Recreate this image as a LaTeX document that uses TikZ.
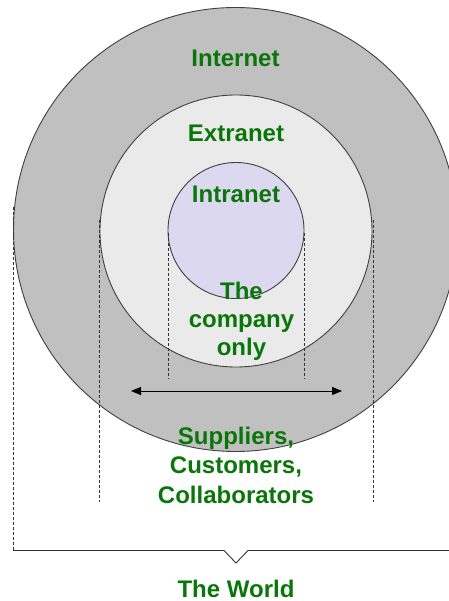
\documentclass[tikz,border=0pt]{standalone}
\usepackage{fontspec}
\setmainfont{Liberation Sans}
\usetikzlibrary{arrows.meta}
\definecolor{outergray}{HTML}{C0C0C0}
\definecolor{midgray}{HTML}{EAEAEA}
\definecolor{innerlav}{HTML}{DCD8EF}
\definecolor{lblgreen}{RGB}{10,118,10}
\tikzset{
  ring/.style={circle, draw=black!75, line width=0.9pt, inner sep=0pt},
  lbl/.style={text=lblgreen, font=\fontsize{24}{29.5}\selectfont\bfseries, align=center, anchor=base, inner sep=0pt},
  guide/.style={draw=black!80, line width=0.6pt, dash pattern=on 3pt off 2pt},
}
\begin{document}
\begin{tikzpicture}[x=1pt,y=-1pt]
\useasboundingbox (0,0) rectangle (448,601);
% rings
\node[ring, fill=outergray, minimum size=444pt] (outer) at (235.5,229.5) {};
\node[ring, fill=midgray, minimum size=272pt] (mid) at (236,231) {};
\node[ring, fill=innerlav, minimum size=136pt] (inner) at (236,230.5) {};
% guide lines
\coordinate (gl1) at (13,207);  \coordinate (gl2) at (13,550.5);
\coordinate (gm1) at (99,220);  \coordinate (gm2) at (99,502);
\coordinate (gn1) at (373,220); \coordinate (gn2) at (373,502);
\coordinate (gi1) at (168,233); \coordinate (gi2) at (168,379);
\coordinate (gj1) at (304,233); \coordinate (gj2) at (304,379);
\draw[guide] (gl1) -- (gl2);
\draw[guide] (gm1) -- (gm2);
\draw[guide] (gn1) -- (gn2);
\draw[guide] (gi1) -- (gi2);
\draw[guide] (gj1) -- (gj2);
% bracket
\coordinate (b1) at (224,550.5);
\coordinate (b2) at (236,563);
\coordinate (b3) at (248,550.5);
\coordinate (b4) at (452,550.5);
\draw[black!80, line width=0.9pt] (gl2) -- (b1) -- (b2) -- (b3) -- (b4);
% arrow
\coordinate (aL) at (131,391);
\coordinate (aR) at (342,391);
\draw[black, line width=0.9pt, {Triangle[length=10pt,width=8pt]}-{Triangle[length=10pt,width=8pt]}] (aL) -- (aR);
% labels
\node[lbl] (tInternet) at (235.5,67) {Internet};
\node[lbl] (tExtranet) at (236,142) {Extranet};
\node[lbl] (tIntranet) at (236,203) {Intranet};
\node[lbl, font=\fontsize{24}{28}\selectfont\bfseries] (tCompany) at (241.5,355) {The\\company\\only};
\node[lbl] (tSuppliers) at (236,503) {Suppliers,\\Customers,\\Collaborators};
\node[lbl] (tWorld) at (236,597) {The World};
\end{tikzpicture}
\end{document}
